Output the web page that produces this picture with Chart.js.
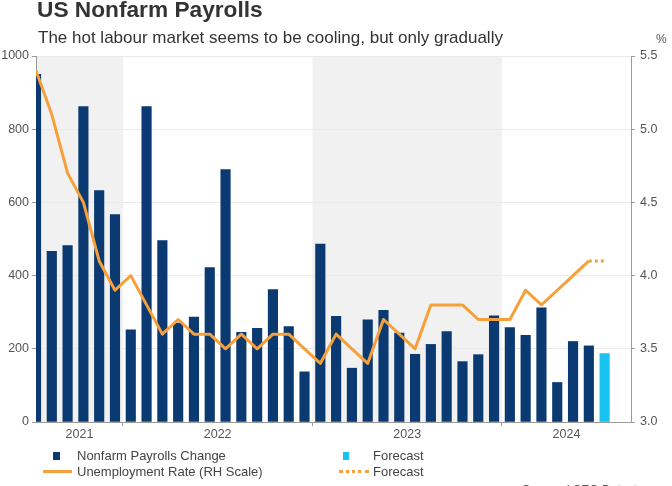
<!DOCTYPE html>
<html>
<head>
<meta charset="utf-8">
<script src="https://cdn.jsdelivr.net/npm/chart.js@4/dist/chart.umd.min.js"></script>
<style>
  html, body { margin: 0; padding: 0; background: #fff; width: 672px; height: 486px; overflow: hidden; }
  #wrap { position: relative; width: 672px; height: 486px; overflow: hidden; font-family: "Liberation Sans", Arial, sans-serif; }
  canvas { position: absolute; left: 0; top: 0; }
  .t { position: absolute; white-space: nowrap; pointer-events: none; }
  #title { left: 37px; top: -2px; font-size: 22.7px; line-height: 22px; font-weight: bold; color: #333; }
  #subtitle { left: 38px; top: 29px; font-size: 17px; line-height: 17px; color: #333; }
  #pct { left: 656px; top: 33px; font-size: 12px; line-height: 12px; color: #555; }
  .leg { position: absolute; font-size: 13px; line-height: 14px; color: #444; white-space: nowrap; }
  .mk { position: absolute; }
  #source { left: 522px; top: 484px; font-size: 12px; line-height: 12px; color: #555; }
</style>
</head>
<body>
<div id="wrap">
  <canvas id="c" width="672" height="486"></canvas>
  <div class="t" id="title">US Nonfarm Payrolls</div>
  <div class="t" id="subtitle">The hot labour market seems to be cooling, but only gradually</div>
  <div class="t" id="pct">%</div>

  <div class="mk" style="left:53px;top:452px;width:7px;height:8px;background:#0b3a72;"></div>
  <div class="leg" style="left:77px;top:449px;">Nonfarm Payrolls Change</div>
  <div class="mk" style="left:43px;top:470px;width:29px;height:3px;background:#f5a03a;"></div>
  <div class="leg" style="left:77px;top:465px;">Unemployment Rate (RH Scale)</div>

  <div class="mk" style="left:343px;top:452px;width:6px;height:8px;background:#18c3f2;"></div>
  <div class="leg" style="left:373px;top:449px;">Forecast</div>
  <div class="mk" style="left:339px;top:470px;width:30px;height:0;border-top:3px dotted #f5a03a;"></div>
  <div class="leg" style="left:373px;top:465px;">Forecast</div>

  <div class="t" id="source">Source: LSEG Datastream</div>
</div>
<script>
// ---- data ----
const months = [
  '2021-07','2021-08','2021-09','2021-10','2021-11','2021-12',
  '2022-01','2022-02','2022-03','2022-04','2022-05','2022-06',
  '2022-07','2022-08','2022-09','2022-10','2022-11','2022-12',
  '2023-01','2023-02','2023-03','2023-04','2023-05','2023-06',
  '2023-07','2023-08','2023-09','2023-10','2023-11','2023-12',
  '2024-01','2024-02','2024-03','2024-04','2024-05','2024-06'
];
const payrolls = [
  950, 466, 482, 862, 632, 567,
  252, 862, 496, 270, 287, 422,
  690, 245, 256, 362, 261, 137,
  486, 289, 147, 279, 305, 243,
  185, 212, 247, 165, 184, 290,
  258, 237, 312, 108, 220, 208
];
const unemployment = [
  5.4, 5.1, 4.7, 4.5, 4.1, 3.9,
  4.0, 3.8, 3.6, 3.7, 3.6, 3.6,
  3.5, 3.6, 3.5, 3.6, 3.6, 3.5,
  3.4, 3.6, 3.5, 3.4, 3.7, 3.6,
  3.5, 3.8, 3.8, 3.8, 3.7, 3.7,
  3.7, 3.9, 3.8, 3.9, 4.0, 4.1
];
const forecastPayMonths = ['2024-07'];
const forecastPayrolls = [187];
const forecastRateMonths = ['2024-06', '2024-07'];
const forecastRate = [4.1, 4.1];
const years = ['2021', '2022', '2023', '2024'];
const shadedYears = ['2021', '2023'];
const leftTicks = [0, 200, 400, 600, 800, 1000];
const rightTicks = [3.0, 3.5, 4.0, 4.5, 5.0, 5.5];

// month string -> numeric index along x (Jul 2021 = 0)
const m0 = months[0].split('-').map(Number);
function idx(s) {
  const p = s.split('-').map(Number);
  return (p[0] - m0[0]) * 12 + (p[1] - m0[1]);
}
const X_MIN = 0, X_MAX = 37.67;

// year boundaries and label positions
const yearStart = y => idx(y + '-01') - 0.5;
const yearEnd = y => idx(y + '-12') + 0.5;
const boundaries = years.slice(1).map(yearStart);
const labelPos = years.map(y => {
  const a = Math.max(X_MIN, yearStart(y)), b = Math.min(X_MAX, yearEnd(y));
  return (a + b) / 2;
});

const NAVY = '#0b3a72', CYAN = '#18c3f2', ORANGE = '#f5a03a';
const TICKFONT = { family: '"Liberation Sans", Arial, sans-serif', size: 12.5 };

const shadePlugin = {
  id: 'shade',
  beforeDraw(chart) {
    const { ctx, chartArea, scales } = chart;
    ctx.save();
    ctx.fillStyle = '#f1f1f1';
    shadedYears.forEach(y => {
      const a = Math.max(X_MIN, yearStart(y)), b = Math.min(X_MAX, yearEnd(y));
      const x1 = scales.x.getPixelForValue(a), x2 = scales.x.getPixelForValue(b);
      ctx.fillRect(x1, chartArea.top, x2 - x1, chartArea.bottom - chartArea.top);
    });
    ctx.restore();
  }
};

new Chart(document.getElementById('c'), {
  type: 'bar',
  data: {
    datasets: [
      {
        type: 'line', label: 'Unemployment Rate (RH Scale)', yAxisID: 'y2', order: 0,
        data: months.map((m, i) => ({ x: idx(m), y: unemployment[i] })),
        borderColor: ORANGE, borderWidth: 3, pointRadius: 0, tension: 0, fill: false,
        borderJoinStyle: 'round', borderCapStyle: 'butt'
      },
      {
        type: 'line', label: 'Forecast', yAxisID: 'y2', order: 0,
        data: forecastRateMonths.map((m, i) => ({ x: idx(m), y: forecastRate[i] })),
        borderColor: ORANGE, borderWidth: 3, borderDash: [3, 3], pointRadius: 0, tension: 0, fill: false
      },
      {
        label: 'Nonfarm Payrolls Change', yAxisID: 'y', order: 1,
        data: months.map((m, i) => ({ x: idx(m), y: payrolls[i] })),
        backgroundColor: NAVY, barThickness: 9.5, grouped: false
      },
      {
        label: 'Forecast', yAxisID: 'y', order: 1,
        data: forecastPayMonths.map((m, i) => ({ x: idx(m), y: forecastPayrolls[i] })),
        backgroundColor: CYAN, barThickness: 9.5, grouped: false
      }
    ]
  },
  options: {
    responsive: false,
    animation: false,
    maintainAspectRatio: false,
    layout: { padding: { top: 56, bottom: 40, left: 0, right: 0 } },
    plugins: { legend: { display: false }, tooltip: { enabled: false }, title: { display: false } },
    scales: {
      x: {
        type: 'linear', min: X_MIN, max: X_MAX, offset: false,
        afterFit(s) { s.height = 24; },
        afterBuildTicks(s) {
          s.ticks = boundaries.map(v => ({ value: v, kind: 'b' }))
            .concat(labelPos.map((v, i) => ({ value: v, label: years[i], kind: 'l' })));
        },
        ticks: {
          autoSkip: false, maxRotation: 0, padding: 1, color: '#555', font: TICKFONT,
          callback(v, i, ticks) { return ticks[i].kind === 'l' ? ticks[i].label : ''; }
        },
        grid: {
          offset: false, drawOnChartArea: false, tickLength: 4, lineWidth: 1,
          color: 'rgba(0,0,0,0)',
          tickColor(ctx) { return ctx.tick && ctx.tick.kind === 'b' ? '#9a9a9a' : 'rgba(0,0,0,0)'; }
        },
        border: { display: true, color: '#9a9a9a', width: 1 }
      },
      y: {
        position: 'left', min: 0, max: 1000,
        afterFit(s) { s.width = 36; },
        afterBuildTicks(s) { s.ticks = leftTicks.map(v => ({ value: v })); },
        ticks: { color: '#555', font: TICKFONT, padding: 3, callback: v => String(v) },
        grid: { color: '#eaeaea', tickColor: '#9a9a9a', tickLength: 4, lineWidth: 1 },
        border: { display: true, color: '#9a9a9a' }
      },
      y2: {
        position: 'right', min: 3, max: 5.5,
        afterFit(s) { s.width = 41; },
        afterBuildTicks(s) { s.ticks = rightTicks.map(v => ({ value: v })); },
        ticks: { color: '#555', font: TICKFONT, padding: 5, callback: v => Number(v).toFixed(1) },
        grid: { drawOnChartArea: false, tickColor: '#9a9a9a', tickLength: 4 },
        border: { display: true, color: '#9a9a9a' }
      }
    }
  },
  plugins: [shadePlugin]
});
</script>
</body>
</html>
